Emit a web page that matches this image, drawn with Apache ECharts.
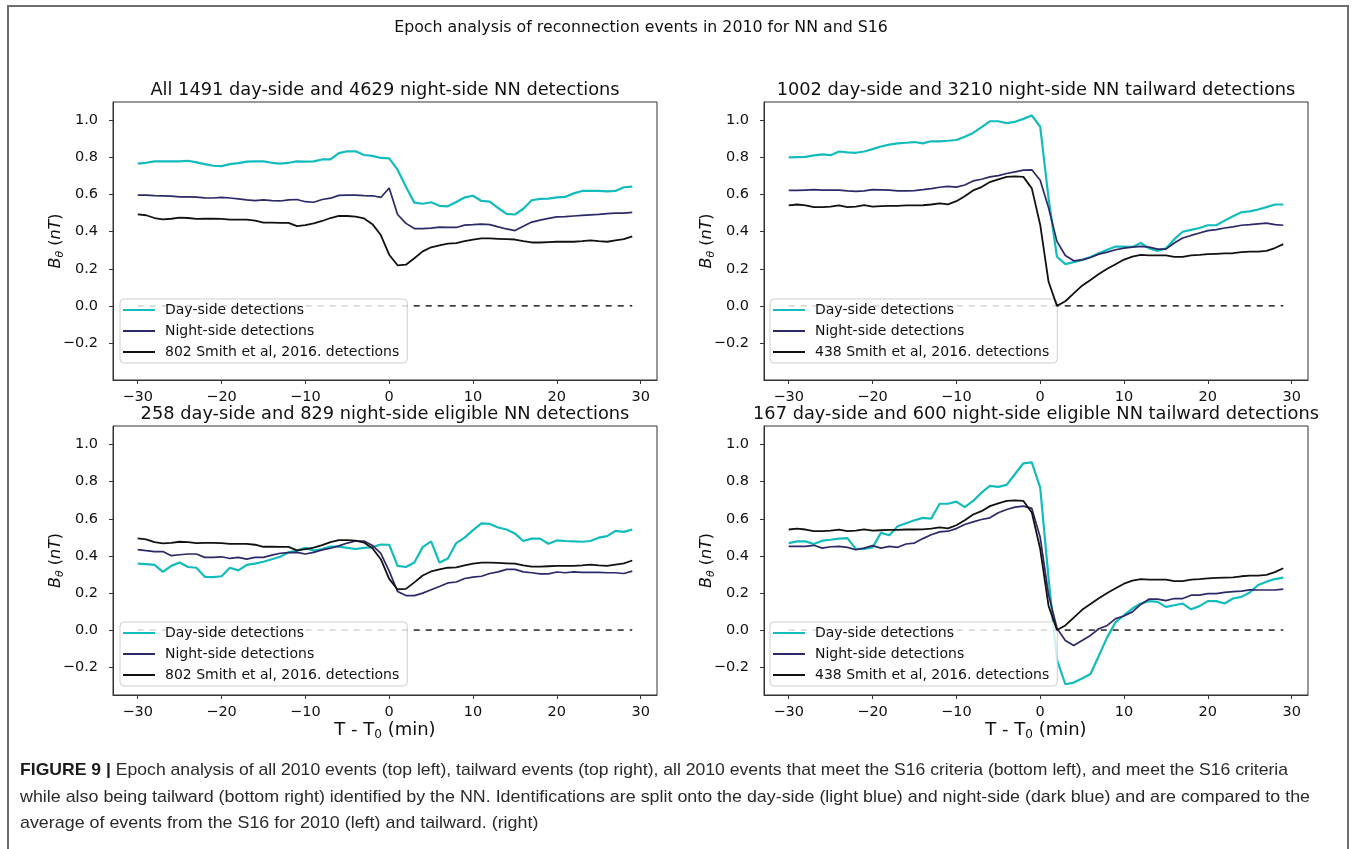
<!DOCTYPE html>
<html><head><meta charset="utf-8">
<script src="https://cdn.jsdelivr.net/npm/echarts@6/dist/echarts.min.js"></script>
<style>html,body{margin:0;padding:0;background:#fff;}#c{width:1354px;height:849px;}</style>
</head><body><div id="c"></div>
<script>
// ---- data ----
const times = [-30,-29,-28,-27,-26,-25,-24,-23,-22,-21,-20,-19,-18,-17,-16,-15,-14,-13,-12,-11,-10,-9,-8,-7,-6,-5,-4,-3,-2,-1,0,1,2,3,4,5,6,7,8,9,10,11,12,13,14,15,16,17,18,19,20,21,22,23,24,25,26,27,28,29];
const xTicks = [-30,-20,-10,0,10,20,30];
const yTicks = [-0.2,0,0.2,0.4,0.6,0.8,1.0];

const p1Day = [0.768,0.772,0.78,0.78,0.78,0.78,0.783,0.774,0.765,0.756,
0.754,0.765,0.77,0.778,0.78,0.78,0.772,0.767,0.772,0.78,
0.778,0.78,0.79,0.79,0.824,0.834,0.834,0.814,0.809,0.798,
0.796,0.735,0.643,0.557,0.551,0.559,0.54,0.537,0.56,0.585,
0.594,0.566,0.562,0.528,0.496,0.493,0.524,0.57,0.577,0.579,
0.585,0.588,0.607,0.62,0.621,0.62,0.618,0.62,0.64,0.643];
const p1Night = [0.597,0.597,0.595,0.594,0.592,0.588,0.588,0.587,0.583,0.582,
0.585,0.582,0.577,0.572,0.568,0.572,0.568,0.566,0.572,0.574,
0.562,0.559,0.574,0.581,0.596,0.597,0.597,0.595,0.594,0.585,
0.636,0.493,0.445,0.417,0.417,0.419,0.425,0.423,0.423,0.436,
0.438,0.441,0.438,0.426,0.415,0.406,0.43,0.452,0.463,0.472,
0.48,0.482,0.485,0.488,0.491,0.494,0.498,0.5,0.5,0.504];
const smith802 = [0.494,0.489,0.474,0.467,0.47,0.476,0.474,0.469,0.47,0.47,
0.469,0.465,0.465,0.465,0.46,0.449,0.449,0.448,0.448,0.43,
0.436,0.445,0.458,0.474,0.485,0.485,0.482,0.472,0.441,0.382,
0.276,0.219,0.222,0.257,0.294,0.316,0.327,0.336,0.338,0.349,
0.358,0.364,0.364,0.362,0.36,0.358,0.349,0.342,0.342,0.344,
0.346,0.346,0.346,0.349,0.353,0.349,0.346,0.353,0.36,0.375];
const p2Day = [0.801,0.803,0.804,0.812,0.817,0.813,0.833,0.828,0.826,0.833,
0.846,0.86,0.87,0.877,0.88,0.884,0.877,0.888,0.888,0.891,
0.895,0.913,0.933,0.964,0.996,0.996,0.986,0.993,1.009,1.027,
0.967,0.58,0.265,0.225,0.236,0.248,0.264,0.284,0.303,0.32,
0.32,0.318,0.339,0.31,0.297,0.31,0.36,0.40,0.41,0.42,
0.435,0.435,0.46,0.484,0.505,0.51,0.52,0.533,0.547,0.547];
const p2Night = [0.623,0.623,0.625,0.627,0.625,0.625,0.624,0.62,0.618,0.62,
0.627,0.626,0.624,0.62,0.62,0.622,0.627,0.633,0.64,0.645,
0.641,0.652,0.674,0.683,0.696,0.703,0.714,0.723,0.732,0.734,
0.678,0.529,0.348,0.272,0.243,0.248,0.261,0.279,0.29,0.303,
0.312,0.317,0.321,0.317,0.306,0.306,0.339,0.366,0.38,0.393,
0.406,0.411,0.42,0.426,0.435,0.438,0.442,0.446,0.438,0.435];
const smith438 = [0.542,0.547,0.542,0.533,0.533,0.536,0.542,0.533,0.536,0.543,
0.536,0.538,0.54,0.54,0.542,0.542,0.543,0.547,0.553,0.548,
0.565,0.592,0.623,0.641,0.668,0.683,0.696,0.699,0.696,0.634,
0.438,0.13,0.0,0.025,0.067,0.109,0.14,0.172,0.2,0.225,
0.25,0.266,0.275,0.272,0.272,0.272,0.264,0.264,0.272,0.275,
0.279,0.281,0.283,0.284,0.29,0.293,0.293,0.297,0.312,0.333];
const p3Day = [0.358,0.355,0.351,0.314,0.346,0.364,0.34,0.336,0.287,0.285,
0.29,0.336,0.322,0.351,0.358,0.368,0.382,0.395,0.419,0.428,
0.443,0.428,0.437,0.45,0.45,0.443,0.437,0.443,0.447,0.461,
0.46,0.346,0.34,0.364,0.447,0.478,0.364,0.386,0.469,0.498,
0.539,0.575,0.572,0.553,0.542,0.52,0.48,0.493,0.493,0.465,
0.483,0.48,0.478,0.476,0.48,0.498,0.506,0.535,0.529,0.542];
const p3Night = [0.434,0.428,0.423,0.423,0.401,0.406,0.41,0.41,0.392,0.392,
0.395,0.386,0.392,0.382,0.392,0.392,0.404,0.414,0.417,0.419,
0.41,0.419,0.432,0.441,0.454,0.469,0.48,0.48,0.456,0.414,
0.318,0.208,0.186,0.186,0.199,0.217,0.235,0.254,0.259,0.278,
0.285,0.29,0.305,0.314,0.327,0.327,0.314,0.309,0.303,0.303,
0.313,0.309,0.314,0.311,0.311,0.311,0.309,0.309,0.305,0.318];
const p4Day = [0.469,0.478,0.478,0.464,0.482,0.487,0.493,0.496,0.438,0.438,
0.446,0.524,0.511,0.56,0.576,0.592,0.605,0.601,0.681,0.681,
0.692,0.663,0.696,0.741,0.777,0.772,0.783,0.841,0.899,0.904,
0.768,0.279,-0.16,-0.292,-0.283,-0.261,-0.237,-0.138,-0.038,0.043,
0.08,0.116,0.143,0.156,0.152,0.125,0.134,0.143,0.112,0.129,
0.156,0.156,0.143,0.17,0.179,0.203,0.243,0.261,0.275,0.283];
const p4Night = [0.451,0.451,0.451,0.457,0.442,0.449,0.451,0.446,0.433,0.442,
0.455,0.442,0.451,0.446,0.464,0.469,0.493,0.514,0.529,0.533,
0.547,0.569,0.583,0.596,0.605,0.632,0.65,0.663,0.668,0.656,
0.5,0.19,0.01,-0.056,-0.083,-0.056,-0.029,0.007,0.025,0.062,
0.076,0.098,0.138,0.167,0.167,0.159,0.17,0.17,0.188,0.188,
0.196,0.196,0.203,0.207,0.21,0.217,0.216,0.216,0.216,0.221];

const dayName = 'Day-side detections';
const nightName = 'Night-side detections';
const smith802Name = '802 Smith et al, 2016. detections';
const smith438Name = '438 Smith et al, 2016. detections';
const panelTitles = [
  'All 1491 day-side and 4629 night-side NN detections',
  '1002 day-side and 3210 night-side NN tailward detections',
  '258 day-side and 829 night-side eligible NN detections',
  '167 day-side and 600 night-side eligible NN tailward detections'
];
const supTitle = 'Epoch analysis of reconnection events in 2010 for NN and S16';
const captionBold = 'FIGURE 9 |';
const captionLines = [
  ' Epoch analysis of all 2010 events (top left), tailward events (top right), all 2010 events that meet the S16 criteria (bottom left), and meet the S16 criteria',
  'while also being tailward (bottom right) identified by the NN. Identifications are split onto the day-side (light blue) and night-side (dark blue) and are compared to the',
  'average of events from the S16 for 2010 (left) and tailward. (right)'
];

// ---- layout / style ----
const FONT = 'DejaVu Sans';
const CAPFONT = '"Liberation Sans Narrow", "Liberation Sans", Arial, sans-serif';
const C_DAY = '#12bcbd', C_NIGHT = '#2c2968', C_SMITH = '#111111';
const grids = [
  {left:113, top:102, width:544, height:278},
  {left:764, top:102, width:544, height:278},
  {left:113, top:426, width:544, height:269},
  {left:764, top:426, width:544, height:269}
];
const yMins = [-0.4, -0.4, -0.35, -0.35];
const panels = [
  {day:p1Day, night:p1Night, smith:smith802, smithName:smith802Name},
  {day:p2Day, night:p2Night, smith:smith438, smithName:smith438Name},
  {day:p3Day, night:p3Night, smith:smith802, smithName:smith802Name},
  {day:p4Day, night:p4Night, smith:smith438, smithName:smith438Name}
];
const minus = v => (v < 0 ? '\u2212' : '');
const fmtX = v => minus(v) + Math.abs(v);
const fmtY = v => minus(v) + Math.abs(v).toFixed(1);
const pairs = arr => times.map((t,i) => [t, arr[i]]);

const series = [];
panels.forEach((p,i) => {
  const base = {type:'line', xAxisIndex:i, yAxisIndex:i, showSymbol:false, symbol:'none', silent:true};
  series.push({...base, name:dayName, data:pairs(p.day), lineStyle:{color:C_DAY, width:2.2}, itemStyle:{color:C_DAY}, z:3});
  series.push({...base, name:nightName, data:pairs(p.night), lineStyle:{color:C_NIGHT, width:1.7}, itemStyle:{color:C_NIGHT}, z:4});
  series.push({...base, name:p.smithName, data:pairs(p.smith), lineStyle:{color:C_SMITH, width:1.8}, itemStyle:{color:C_SMITH}, z:5});
  series.push({...base, name:'zero'+i, data:[[times[0],0],[times[times.length-1],0]],
    lineStyle:{color:'#222', width:1.5, type:[6,6]}, itemStyle:{color:'#222'}, z:2});
});

const legendPos = [[120,299],[770,299],[120,622],[770,622]];
const legends = panels.map((p,i) => ({
  left:legendPos[i][0], top:legendPos[i][1], orient:'vertical',
  data:[dayName, nightName, p.smithName], icon:'rect', itemWidth:32, itemHeight:2, itemGap:7,
  selectedMode:false, backgroundColor:'rgba(255,255,255,0.8)', borderColor:'#cfcfcf', borderWidth:1, borderRadius:4,
  padding:[4,8,4,3],
  textStyle:{fontFamily:FONT, fontSize:14, color:'#111', padding:[0,0,0,5]}
}));

const axisCol = '#333';
const xAxes = grids.map((g,i) => ({
  type:'value', gridIndex:i, min:-32.95, max:31.95,
  axisLine:{show:true, onZero:false, lineStyle:{color:axisCol}},
  axisTick:{show:true, customValues:xTicks, length:4, lineStyle:{color:axisCol}},
  axisLabel:{customValues:xTicks, margin:10, fontFamily:FONT, fontSize:14.5, color:'#111', formatter:fmtX},
  splitLine:{show:false}
}));
const yAxes = grids.map((g,i) => ({
  type:'value', gridIndex:i, min:yMins[i], max:1.1,
  axisLine:{show:true, onZero:false, lineStyle:{color:axisCol}},
  axisTick:{show:true, customValues:yTicks, length:4, lineStyle:{color:axisCol}},
  axisLabel:{customValues:yTicks, margin:15, fontFamily:FONT, fontSize:14.5, color:'#111', formatter:fmtY},
  splitLine:{show:false}
}));

// graphics: titles, axis names, caption, frame
const graphic = [];
graphic.push({type:'rect', shape:{x:8, y:6, width:1340, height:900}, style:{fill:'none', stroke:'#6e6e6e', lineWidth:2}, silent:true});
graphic.push({type:'text', x:641, y:28, style:{text:supTitle, fontFamily:FONT, fontSize:15.8, fill:'#111', align:'center', verticalAlign:'middle'}});
grids.forEach((g,i) => {
  const cx = g.left + g.width/2;
  graphic.push({type:'text', x:cx, y:g.top - 12, style:{text:panelTitles[i], fontFamily:FONT, fontSize:17.8, fill:'#111', align:'center', verticalAlign:'middle'}});
  const yRich = {
    i:{fontFamily:FONT, fontSize:16, fontStyle:'italic', lineHeight:20, fill:'#111'},
    n:{fontFamily:FONT, fontSize:16, lineHeight:20, fill:'#111'},
    s:{fontFamily:FONT, fontSize:11, fontStyle:'italic', lineHeight:11, verticalAlign:'bottom', fill:'#111'}
  };
  graphic.push({type:'text', x:g.left - 57, y:g.top + g.height/2, rotation:Math.PI/2,
    style:{text:'{i|B}{s|\u03b8}{n| (}{i|nT}{n|)}', rich:yRich, align:'center', verticalAlign:'middle'}});
  if (i >= 2) {
    graphic.push({type:'text', x:cx, y:g.top + g.height + 35,
      style:{text:'{n|T - T}{s|0}{n| (min)}', align:'center', verticalAlign:'middle',
        rich:{n:{fontFamily:FONT, fontSize:18, lineHeight:22, fill:'#111'},
              s:{fontFamily:FONT, fontSize:12, lineHeight:12, verticalAlign:'bottom', fill:'#111'}}}});
  }
});

// caption, condensed to the reference line widths
const CAP_SIZE = 17;
const cv = document.createElement('canvas').getContext('2d');
cv.font = 'bold ' + CAP_SIZE + 'px ' + CAPFONT;
const wBold = cv.measureText(captionBold).width;
cv.font = CAP_SIZE + 'px ' + CAPFONT;
const capW = captionLines.map((l,k) => cv.measureText(l).width + (k === 0 ? wBold : 0));
const capTargets = [1268, 1290, null];
const sc2 = capTargets[1] / capW[1];
const capScale = [capTargets[0] / capW[0], sc2, sc2];
const capY = [770, 797, 823];
captionLines.forEach((line, k) => {
  const txt = k === 0 ? '{b|' + captionBold + '}{n|' + line + '}' : '{n|' + line + '}';
  graphic.push({type:'text', x:20, y:capY[k], scaleX:capScale[k], scaleY:1,
    style:{text:txt, align:'left', verticalAlign:'middle',
      rich:{b:{fontFamily:CAPFONT, fontSize:CAP_SIZE, fontWeight:'bold', fill:'#1a1a1a'},
            n:{fontFamily:CAPFONT, fontSize:CAP_SIZE, fill:'#2a2a2a'}}}});
});

const option = {
  animation:false,
  backgroundColor:'#ffffff',
  grid: grids.map(g => ({...g, show:true, borderColor:axisCol, borderWidth:1, backgroundColor:'transparent'})),
  xAxis: xAxes,
  yAxis: yAxes,
  legend: legends,
  series: series,
  graphic: graphic
};
const chart = echarts.init(document.getElementById('c'), null, {renderer:'canvas'});
chart.setOption(option);
</script>
</body></html>
